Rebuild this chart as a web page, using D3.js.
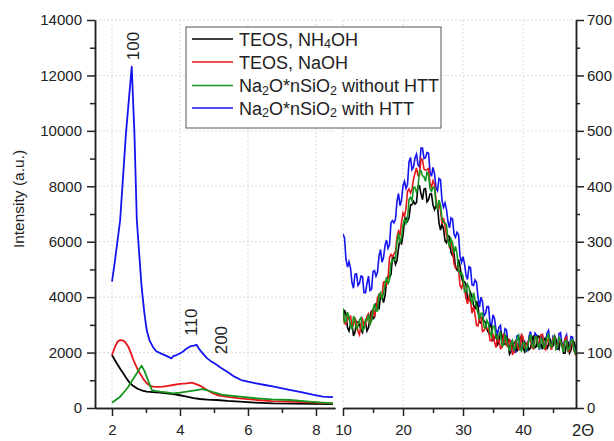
<!DOCTYPE html>
<html><head><meta charset="utf-8">
<script src="https://cdn.jsdelivr.net/npm/d3@7"></script>
<style>
body{margin:0;background:#fff}
svg text{font-family:"Liberation Sans",Arial,sans-serif;fill:#222}
</style>
</head><body>
<svg id="c" width="614" height="441"></svg>
<script>
// ---------- DATA ----------
const seriesNames = [
  [["TEOS, NH",0],["4",1],["OH",0]],
  [["TEOS, NaOH",0]],
  [["Na",0],["2",1],["O*nSiO",0],["2",1],[" without HTT",0]],
  [["Na",0],["2",1],["O*nSiO",0],["2",1],[" with HTT",0]]
];
const seriesColors = ["#000000","#e8161a","#14961e","#1414f0"];

// low-angle region (left panel, left axis)
const blackLowX = [2.0,2.07,2.14,2.24,2.33,2.43,2.53,2.63,2.73,2.87,3.02,3.2,3.41,3.6,3.8,4.0,4.2,4.4,4.59,4.8,5.08,5.4,5.76,6.2,6.74,7.3,7.9,8.5];
const blackLowY = [1912,1760,1612,1420,1252,1060,891,790,710,640,589,570,553,530,505,460,408,360,325,305,289,255,227,195,170,160,150,144];
const redLowX = [2.0,2.09,2.17,2.24,2.31,2.38,2.48,2.55,2.63,2.72,2.82,2.92,3.02,3.12,3.21,3.35,3.5,3.65,3.8,4.0,4.2,4.35,4.49,4.6,4.79,4.95,5.08,5.4,5.76,6.26,6.7,7.24,7.8,8.5];
const redLowY = [1912,2212,2400,2453,2440,2392,2212,2000,1732,1480,1252,1050,891,800,769,760,769,800,830,870,891,913,855,800,649,540,469,400,350,289,250,227,200,170];
const greenLowX = [2.0,2.24,2.4,2.48,2.6,2.73,2.8,2.87,2.95,3.02,3.1,3.17,3.3,3.41,3.6,3.8,4.0,4.2,4.49,4.65,4.79,5.0,5.27,5.76,6.26,6.7,7.24,7.8,8.5];
const greenLowY = [191,408,640,769,1000,1252,1400,1526,1350,1130,870,649,610,589,560,530,555,589,649,680,649,560,469,408,350,310,289,230,170];
const blueLowX = [2.0,2.09,2.24,2.41,2.58,2.66,2.73,2.87,2.95,3.02,3.1,3.2,3.3,3.45,3.6,3.75,3.8,3.9,4.0,4.1,4.2,4.3,4.4,4.49,4.55,4.65,4.8,4.9,5.0,5.1,5.2,5.4,5.6,5.8,6.0,6.2,6.5,6.8,7.0,7.3,7.6,7.9,8.2,8.5];
const blueLowY = [4557,5340,6783,9900,12314,9900,6783,4377,3450,2814,2450,2212,2050,1960,1880,1790,1870,1910,1970,2050,2150,2220,2250,2280,2150,2000,1790,1700,1620,1540,1450,1300,1130,1010,950,900,830,760,710,640,560,480,410,390];

// wide-angle region (right panel, right axis), 2θ from 10 in 0.25° steps
const wideStart = 10, wideStep = 0.25;
const blackWide = [159,177,169,145,139,151,152,130,137,156,155,151,141,136,154,155,139,145,163,176,161,164,188,187,178,203,203,190,202,227,237,235,241,272,272,259,266,288,306,295,312,337,343,337,343,366,367,373,368,371,400,401,386,376,395,396,372,376,386,386,366,358,365,364,334,321,332,323,302,298,311,309,281,275,279,253,249,268,257,235,227,228,223,196,194,208,201,186,178,193,184,155,153,163,157,155,141,136,150,147,122,125,134,114,118,139,131,116,115,128,123,97,101,114,116,120,103,106,125,130,108,102,117,115,105,108,123,131,109,111,130,129,114,106,124,126,106,114,125,109,112,130,124,110,106,124,114,99,99,115,118,99,104,121,119,109,106];
const redWide = [177,153,151,165,160,167,146,149,163,154,138,132,152,160,148,149,166,170,149,169,179,165,178,199,205,201,203,227,228,222,234,271,277,273,278,282,309,319,313,335,352,346,360,391,395,388,394,413,424,433,419,420,450,447,431,429,430,432,405,399,410,403,376,360,369,356,332,343,329,311,304,291,299,289,260,253,253,252,221,216,226,215,198,188,201,193,171,183,169,149,148,162,164,138,140,146,143,144,122,121,134,119,109,128,122,107,109,131,125,113,110,123,120,97,100,119,117,106,106,132,128,110,113,119,121,124,109,107,128,128,115,120,132,133,108,105,121,124,113,105,127,129,108,112,121,121,111,110,125,128,103,103,115,119,103,97,108];
const greenWide = [180,155,157,173,164,148,143,166,159,143,147,159,163,140,143,160,158,169,151,157,178,188,175,175,204,208,198,206,223,236,223,232,262,267,266,271,299,315,298,307,330,341,333,341,376,380,374,398,398,389,398,428,428,419,417,409,425,421,396,391,398,397,367,358,375,366,341,335,334,330,304,290,305,299,280,292,278,250,242,244,238,210,210,223,217,197,190,208,195,181,171,160,171,171,146,144,158,152,136,129,148,148,128,125,132,136,112,113,132,125,112,103,117,122,105,109,125,131,107,103,118,118,104,110,124,133,115,108,128,128,112,108,125,122,107,115,128,133,114,110,123,129,106,110,127,123,111,101,120,122,104,108,122,123,105,97,112];
const blueWide = [314,307,268,254,264,253,226,216,241,242,221,225,238,237,208,208,225,238,212,214,246,248,238,245,274,286,263,271,293,303,288,295,334,338,334,341,373,387,365,375,401,409,396,403,444,452,430,435,451,458,439,435,469,469,450,452,461,460,426,418,434,423,397,392,414,412,374,362,370,358,336,325,343,341,314,308,317,313,274,263,273,260,240,232,255,253,222,221,231,227,200,182,200,192,166,170,183,183,153,148,168,161,141,134,146,149,118,124,143,141,115,104,121,120,103,101,130,131,106,109,120,121,102,104,129,138,117,117,135,131,114,105,130,130,107,118,135,140,117,113,129,125,107,106,134,136,114,112,126,132,105,111,129,128,108,100,118];

const lowTicks = [2,4,6,8], lowMinor = [3,5,7];
const wideTicks = [10,20,30,40], wideMinor = [15,25,35,45];
const leftTicks = [0,2000,4000,6000,8000,10000,12000,14000];
const leftMinor = [1000,3000,5000,7000,9000,11000,13000];
const rightTicks = [0,100,200,300,400,500,600,700];
const rightMinor = [50,150,250,350,450,550,650];

const peakLabels = [
  {text:"100", x:2.62, v:13060},
  {text:"110", x:4.35, v:3100},
  {text:"200", x:5.21, v:2450}
];
const yTitle = "Intensity (a.u.)";
const xTitle = "2Θ";

// ---------- CHART ----------
const svg = d3.select("#c");
const xL = d3.scaleLinear().domain([1.5,8.56]).range([95,335]);
const xR = d3.scaleLinear().domain([10,48.83]).range([343,576]);
const yL = d3.scaleLinear().domain([0,14000]).range([408,20]);
const yR = d3.scaleLinear().domain([0,700]).range([408,20]);
const fmt = d3.format("d");

// grid
const grid = svg.append("g").attr("stroke","#dcdcdc").attr("stroke-width",1).attr("stroke-dasharray","2,2");
lowTicks.forEach(t=>grid.append("line").attr("x1",xL(t)).attr("x2",xL(t)).attr("y1",yL(14000)).attr("y2",yL(0)));
wideTicks.forEach(t=>grid.append("line").attr("x1",xR(t)).attr("x2",xR(t)).attr("y1",yR(700)).attr("y2",yR(0)));
leftTicks.slice(1).forEach(t=>grid.append("line").attr("x1",xL.range()[0]).attr("x2",xL.range()[1]).attr("y1",yL(t)).attr("y2",yL(t)));
rightTicks.slice(1).forEach(t=>grid.append("line").attr("x1",xR.range()[0]).attr("x2",xR.range()[1]).attr("y1",yR(t)).attr("y2",yR(t)));

// clip for right panel
svg.append("clipPath").attr("id","clipR").append("rect")
  .attr("x",xR.range()[0]).attr("y",yR(700)).attr("width",xR.range()[1]-xR.range()[0]).attr("height",yR(0)-yR(700));

// wide lines
const wideSets = [blueWide, blackWide, redWide, greenWide];
const wideColors = [seriesColors[3], seriesColors[0], seriesColors[1], seriesColors[2]];
const lineR = d3.line().x((d,i)=>xR(wideStart+i*wideStep)).y(d=>yR(d));
const gR = svg.append("g").attr("clip-path","url(#clipR)");
wideSets.forEach((s,k)=>gR.append("path").attr("d",lineR(s)).attr("fill","none")
  .attr("stroke",wideColors[k]).attr("stroke-width",1.6).attr("stroke-linejoin","miter"));

// low lines
const lowSets = [[blueLowX,blueLowY,3],[blackLowX,blackLowY,0],[redLowX,redLowY,1],[greenLowX,greenLowY,2]];
const lineL = d3.line().x(d=>xL(d[0])).y(d=>yL(d[1]));
lowSets.forEach(([xs,ys,c])=>svg.append("path").attr("d",lineL(xs.map((x,i)=>[x,ys[i]])))
  .attr("fill","none").attr("stroke",seriesColors[c]).attr("stroke-width",1.8).attr("stroke-linejoin","round"));

// axes
function styleAxis(g){
  g.attr("font-size",15).attr("font-family","Liberation Sans, Arial, sans-serif");
  g.selectAll("path,line").attr("stroke","#222").attr("stroke-width",1.5);
  g.selectAll("text").attr("fill","#222");
}
const axisY0 = yL(0);
svg.append("g").attr("transform",`translate(${xL.range()[0]},0)`)
  .call(d3.axisLeft(yL).tickValues(leftTicks).tickFormat(fmt).tickSize(8).tickSizeOuter(0).tickPadding(5)).call(styleAxis);
svg.append("g").attr("transform",`translate(${xL.range()[0]},0)`)
  .call(d3.axisLeft(yL).tickValues(leftMinor).tickSize(5).tickSizeOuter(0).tickFormat("")).call(styleAxis);
svg.append("g").attr("transform",`translate(${xR.range()[1]},0)`)
  .call(d3.axisRight(yR).tickValues(rightTicks).tickFormat(fmt).tickSize(8).tickSizeOuter(0).tickPadding(3)).call(styleAxis);
svg.append("g").attr("transform",`translate(${xR.range()[1]},0)`)
  .call(d3.axisRight(yR).tickValues(rightMinor).tickSize(4).tickSizeOuter(0).tickFormat("")).call(styleAxis);
svg.append("g").attr("transform",`translate(0,${axisY0})`)
  .call(d3.axisBottom(xL).tickValues(lowTicks).tickFormat(fmt).tickSize(8).tickSizeOuter(0).tickPadding(8)).call(styleAxis);
svg.append("g").attr("transform",`translate(0,${axisY0})`)
  .call(d3.axisBottom(xL).tickValues(lowMinor).tickSize(5).tickSizeOuter(0).tickFormat("")).call(styleAxis);
svg.append("g").attr("transform",`translate(0,${axisY0})`)
  .call(d3.axisBottom(xR).tickValues(wideTicks).tickFormat(fmt).tickSize(8).tickSizeOuter(0).tickPadding(8)).call(styleAxis);
svg.append("g").attr("transform",`translate(0,${axisY0})`)
  .call(d3.axisBottom(xR).tickValues(wideMinor).tickSize(5).tickSizeOuter(0).tickFormat("")).call(styleAxis);

// titles
svg.append("text").attr("transform","translate(18,199) rotate(-90)").attr("text-anchor","middle")
  .attr("dominant-baseline","central").attr("font-size",15.5).text(yTitle);
svg.append("text").attr("x",583).attr("y",436).attr("text-anchor","middle").attr("font-size",16.5).text(xTitle);

// peak labels
peakLabels.forEach(p=>svg.append("text")
  .attr("transform",`translate(${xL(p.x)},${yL(p.v)}) rotate(-90)`)
  .attr("text-anchor","middle").attr("dominant-baseline","central").attr("font-size",17).text(p.text));

// legend
const lg = svg.append("g");
lg.append("rect").attr("x",186).attr("y",27).attr("width",255).attr("height",101)
  .attr("fill","#fff").attr("stroke","#555").attr("stroke-width",1);
const rowY = [39,62,85.5,108];
seriesNames.forEach((segs,i)=>{
  lg.append("line").attr("x1",192).attr("x2",233).attr("y1",rowY[i]).attr("y2",rowY[i])
    .attr("stroke",seriesColors[i]).attr("stroke-width",1.6);
  const t = lg.append("text").attr("x",239).attr("y",rowY[i]+6.5).attr("font-size",18);
  let shifted = false;
  segs.forEach(([s,sub])=>{
    const ts = t.append("tspan").text(s);
    if(sub){ ts.attr("font-size",12.5).attr("dy", shifted?0:2.5); shifted=true; }
    else { if(shifted){ ts.attr("dy",-2.5); shifted=false; } }
  });
});
</script>
</body></html>
